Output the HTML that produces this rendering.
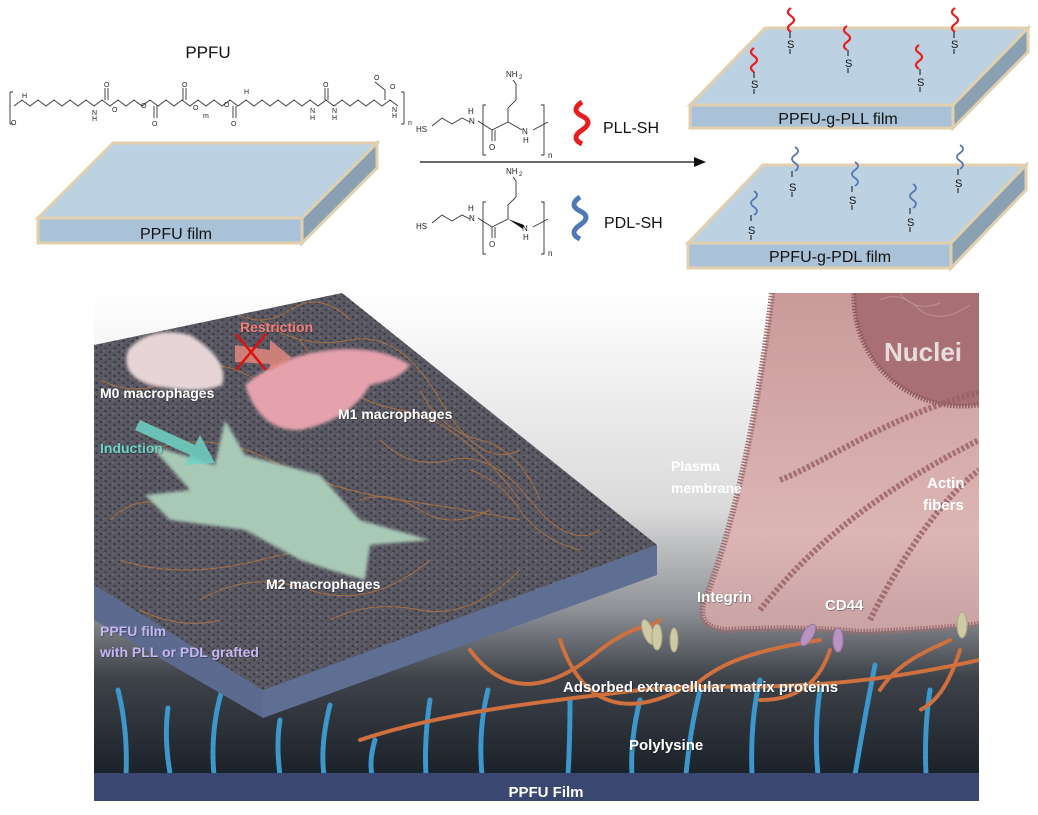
<!DOCTYPE html>
<html><head><meta charset="utf-8"><style>
html,body{margin:0;padding:0;background:#fff;}
svg{display:block;}
text{font-family:"Liberation Sans",Arial,sans-serif;}
.b{font-weight:bold;}
</style></head><body>
<svg width="1038" height="815" viewBox="0 0 1038 815" xmlns="http://www.w3.org/2000/svg">
<defs>
<clipPath id="pc"><rect x="94" y="293" width="885" height="480"/></clipPath>
<clipPath id="sc"><polygon points="94,345 342,293 657,545 263,690 94,585"/></clipPath>
<linearGradient id="bg" x1="0" y1="0" x2="0" y2="1">
<stop offset="0" stop-color="#ffffff"/><stop offset="0.45" stop-color="#dadada"/><stop offset="0.66" stop-color="#8e9196"/><stop offset="0.8" stop-color="#3e434a"/><stop offset="1" stop-color="#1c222a"/></linearGradient>
<linearGradient id="cell" x1="0" y1="0" x2="0" y2="1"><stop offset="0" stop-color="#c99a9a"/><stop offset="0.7" stop-color="#ddb5b5"/><stop offset="1" stop-color="#c8a2a4"/></linearGradient>
<pattern id="tex" width="9" height="7" patternUnits="userSpaceOnUse">
<rect width="9" height="7" fill="#4d5468"/>
<circle cx="2" cy="2" r="1" fill="#20242f"/><circle cx="6.5" cy="5" r="1" fill="#20242f"/><circle cx="5" cy="1" r="0.6" fill="#8d97b2"/>
</pattern>
<filter id="bl"><feGaussianBlur stdDeviation="1.5"/></filter>
<filter id="sh"><feDropShadow dx="0.5" dy="0.5" stdDeviation="0.6" flood-color="#000" flood-opacity="0.6"/></filter>
</defs>

<text x="208" y="58" font-size="17" text-anchor="middle" fill="#111">PPFU</text>
<path d="M14 106 l8 -6 l8 6 l8 -6 l8 6 l8 -6 l8 6 l8 -6 l8 6 l8 -6 l8 6 l8 -6 l8 6 l8 -6 l8 6 l8 -6 l8 6 l8 -6 l8 6 l8 -6 l8 6 l8 -6 l8 6 l8 -6 l8 6 l8 -6 l8 6 l8 -6 l8 6 l8 -6 l8 6 l8 -6 l8 6 l8 -6 l8 6 l8 -6 l8 6 l8 -6 l8 6 l8 -6 l8 6 l8 -6 l8 6 l8 -6 l8 6 l8 -6 l8 6 l8 -6 l8 6" stroke="#333" stroke-width="0.9" fill="none"/>
<g stroke="#333" stroke-width="0.9" fill="none">
<path d="M10 92 v32 M10 92 h3 M10 124 h3 M404 92 v32 M404 92 h-3 M404 124 h-3"/>
<line x1="105" y1="100" x2="105" y2="88"/><line x1="108" y1="100" x2="108" y2="88"/>
<line x1="154" y1="106" x2="154" y2="118"/><line x1="157" y1="106" x2="157" y2="118"/>
<line x1="183" y1="100" x2="183" y2="88"/><line x1="186" y1="100" x2="186" y2="88"/>
<line x1="233" y1="106" x2="233" y2="118"/><line x1="236" y1="106" x2="236" y2="118"/>
<line x1="325" y1="100" x2="325" y2="88"/><line x1="328" y1="100" x2="328" y2="88"/>
<line x1="385" y1="90" x2="385" y2="100"/><line x1="375" y1="82" x2="385" y2="90"/>
</g>
<g font-size="7" fill="#222">
<text x="22" y="98">H</text><text x="11" y="125">O</text>
<text x="92" y="115">N</text><text x="92" y="121">H</text><text x="104" y="87">O</text><text x="112" y="112">O</text>
<text x="141" y="108">O</text><text x="152" y="126">O</text><text x="182" y="87">O</text><text x="193" y="110">O</text>
<text x="203" y="118">m</text><text x="224" y="107">O</text><text x="231" y="126">O</text><text x="244" y="94">H</text>
<text x="310" y="113">N</text><text x="310" y="120">H</text><text x="323" y="87">O</text><text x="332" y="113">N</text><text x="332" y="120">H</text>
<text x="374" y="80">O</text><text x="390" y="89">O</text><text x="392" y="112">N</text><text x="392" y="118">H</text><text x="408" y="125">n</text>
</g>

<g stroke="#e2cfae" stroke-width="3">
<polygon points="113,143 377,143 302,218 38,218" fill="#bcd1e1"/>
<polygon points="38,218 302,218 302,243 38,243" fill="#a9c2d8"/>
<polygon points="302,218 377,143 377,168 302,243" fill="#8aa1b3"/>
</g>
<text x="176" y="239" font-size="16" text-anchor="middle" fill="#111">PPFU film</text>

<g stroke="#333" stroke-width="0.9" fill="none">
<polyline points="432,126 442,118 452,124 462,118 470,122"/>
<polyline points="478,121 492,130 508,122"/>
<line x1="492" y1="130" x2="492" y2="141"/><line x1="495" y1="130" x2="495" y2="141"/>
<polyline points="508,122 508,108 516,100 516,84 513,80"/>
<line x1="508" y1="122" x2="522" y2="130"/>
<polyline points="533,130 548,122"/>
<path d="M486 105 h-3 v50 h3 M541 105 h3 v50 h-3"/>
<polyline points="432,223 442,215 452,221 462,215 470,219"/>
<polyline points="478,218 492,227 508,219"/>
<line x1="492" y1="227" x2="492" y2="238"/><line x1="495" y1="227" x2="495" y2="238"/>
<polyline points="508,219 508,205 516,197 516,181 513,177"/>
<polyline points="533,227 548,219"/>
<path d="M486 202 h-3 v52 h3 M541 202 h3 v52 h-3"/>
</g>
<polygon points="508,219 524,225 523,229" fill="#111"/>
<g font-size="8" fill="#222">
<text x="416" y="132">HS</text><text x="468" y="114">H</text><text x="469" y="124">N</text><text x="489" y="150">O</text>
<text x="506" y="77">NH</text><text x="519" y="79" font-size="6">2</text><text x="522" y="134">N</text><text x="523" y="143">H</text><text x="548" y="158">n</text>
<text x="416" y="229">HS</text><text x="468" y="211">H</text><text x="469" y="221">N</text><text x="489" y="247">O</text>
<text x="506" y="174">NH</text><text x="519" y="176" font-size="6">2</text><text x="522" y="231">N</text><text x="523" y="240">H</text><text x="548" y="256">n</text>
</g>
<path d="M582 102 q-12 8 0 14 q12 6 0 14 q-12 8 0 14" stroke="#e81e1e" stroke-width="5" fill="none"/>
<text x="603" y="133" font-size="16" fill="#111">PLL-SH</text>
<path d="M580 197 q-12 8 0 14 q12 6 0 14 q-12 8 0 14" stroke="#4f79b5" stroke-width="5" fill="none"/>
<text x="604" y="228" font-size="16" fill="#111">PDL-SH</text>

<line x1="420" y1="162" x2="695" y2="162" stroke="#111" stroke-width="1.3"/>
<polygon points="706,162 694,157 694,167" fill="#111"/>

<g stroke="#e2cfae" stroke-width="3">
<polygon points="765,28 1028,28 953,105 690,105" fill="#bcd1e1"/>
<polygon points="690,105 953,105 953,128 690,128" fill="#a9c2d8"/>
<polygon points="953,105 1028,28 1028,52 953,128" fill="#8aa1b3"/>
<polygon points="763,165 1026,165 951,243 688,243" fill="#bcd1e1"/>
<polygon points="688,243 951,243 951,268 688,268" fill="#a9c2d8"/>
<polygon points="951,243 1026,165 1026,190 951,268" fill="#8aa1b3"/>
</g>
<text x="838" y="124" font-size="16" text-anchor="middle" fill="#111">PPFU-g-PLL film</text>
<text x="830" y="262" font-size="16" text-anchor="middle" fill="#111">PPFU-g-PDL film</text>
<g fill="none" stroke-width="2.2">
<g stroke="#e81e1e">
<path d="M754 48 q-6 4 0 8 q6 4 0 8 q-6 4 0 8"/>
<path d="M791 8 q-6 4 0 8 q6 4 0 8 q-6 4 0 8"/>
<path d="M847 26 q-6 4 0 8 q6 4 0 8 q-6 4 0 8"/>
<path d="M919 45 q-6 4 0 8 q6 4 0 8 q-6 4 0 8"/>
<path d="M955 8 q-6 4 0 8 q6 4 0 8 q-6 4 0 8"/>
</g>
<g stroke="#4f79b5" stroke-width="1.8">
<path d="M754 191 q6 4 0 8 q-6 4 0 8 q6 4 0 8"/>
<path d="M795 147 q6 4 0 8 q-6 4 0 8 q6 4 0 8"/>
<path d="M855 162 q6 4 0 8 q-6 4 0 8 q6 4 0 8"/>
<path d="M913 184 q6 4 0 8 q-6 4 0 8 q6 4 0 8"/>
<path d="M960 145 q6 4 0 8 q-6 4 0 8 q6 4 0 8"/>
</g>
</g>
<g font-size="11" fill="#111">
<text x="751" y="88">S</text><text x="787" y="48">S</text><text x="845" y="67">S</text><text x="917" y="86">S</text><text x="951" y="48">S</text>
<text x="748" y="234">S</text><text x="789" y="191">S</text><text x="849" y="204">S</text><text x="907" y="226">S</text><text x="955" y="187">S</text>
</g>
<g stroke="#111" stroke-width="1">
<path d="M754 72 v6 M754 89 v5 M790 32 v6 M790 49 v5 M848 50 v6 M848 68 v5 M920 69 v6 M920 87 v5 M954 32 v6 M954 49 v5"/>
<path d="M751 215 v6 M751 235 v5 M792 171 v6 M792 192 v5 M852 186 v6 M852 205 v5 M910 208 v6 M910 227 v5 M958 169 v6 M958 188 v5"/>
</g>

<rect x="94" y="293" width="885" height="480" fill="url(#bg)"/>
<g clip-path="url(#pc)">
<path d="M772,293 C762,380 742,500 708,592 Q690,628 728,630 Q800,626 860,632 Q930,630 979,624 L979,293 Z" fill="url(#cell)"/>
<path d="M772,293 C762,380 742,500 708,592 Q690,628 728,630 Q800,626 860,632 Q930,630 979,624" fill="none" stroke="#a06c70" stroke-width="6" stroke-dasharray="1.5 1.5"/>
<circle cx="962" cy="298" r="108" fill="#a87074" stroke="#8f5a5e" stroke-width="5" stroke-dasharray="1.5 1.5"/>
<g stroke="#c9a0a0" stroke-width="1" fill="none" opacity="0.7">
<path d="M880 300 q20 -10 40 10 q20 15 50 -5"/><path d="M900 293 q15 20 40 10"/>
</g>
<g stroke="#9a6064" stroke-width="6" stroke-dasharray="3 2" fill="none" opacity="0.8">
<path d="M760 610 C800 560 860 500 979 440"/>
<path d="M780 480 C830 460 880 420 979 392"/>
<path d="M870 620 C900 560 940 500 979 470"/>
</g>
</g>
<text x="884" y="361" font-size="26" class="b" fill="#e8dcdc">Nuclei</text>
<text x="671" y="471" font-size="14" class="b" fill="#fff">Plasma</text>
<text x="671" y="493" font-size="14" class="b" fill="#fff">membrane</text>
<text x="927" y="488" font-size="15" class="b" fill="#fff">Actin</text>
<text x="923" y="510" font-size="15" class="b" fill="#fff">fibers</text>

<g fill="none" stroke-linecap="round" clip-path="url(#pc)">
<g stroke="#3b97cc" stroke-width="5" stroke-dasharray="4 2">
<path d="M118 690 q10 40 8 85"/><path d="M168 708 q-4 30 2 65"/><path d="M222 690 q-12 40 -8 85"/>
<path d="M280 720 q-4 25 0 55"/><path d="M330 705 q-10 40 -6 70"/><path d="M375 740 q-6 20 -3 35"/>
<path d="M430 700 q-6 40 -4 75"/><path d="M488 690 q-10 40 -6 85"/><path d="M570 700 q0 40 -2 75"/>
<path d="M640 700 q-10 40 -8 75"/><path d="M700 690 q-10 40 -14 85"/><path d="M760 680 q-10 40 -8 95"/>
<path d="M820 690 q-6 40 -2 85"/><path d="M875 665 q-10 50 -20 110"/><path d="M930 690 q-6 40 -4 85"/>
</g>
<g stroke="#d0703e" stroke-width="4" stroke-dasharray="3 2">
<path d="M360 740 C450 710 560 700 640 690 C720 680 800 700 979 660"/>
<path d="M470 650 C500 690 540 700 600 650 C640 620 650 630 660 620"/>
<path d="M560 640 C580 700 620 720 680 690"/>
<path d="M690 690 C720 660 760 650 820 640 M830 650 C820 680 800 700 760 700"/>
<path d="M880 690 C900 660 930 650 950 640 M960 650 C950 680 940 700 920 710"/>
</g>
</g>
<g fill="#cfcaa6" stroke="#a9a482" stroke-width="1">
<ellipse cx="648" cy="632" rx="5" ry="13" transform="rotate(-20 648 632)"/><ellipse cx="657" cy="637" rx="5" ry="13"/>
<ellipse cx="674" cy="640" rx="4" ry="12"/><ellipse cx="962" cy="625" rx="5" ry="13"/>
</g>
<g fill="#b993c2" stroke="#9a78a4" stroke-width="1">
<ellipse cx="808" cy="635" rx="5" ry="12" transform="rotate(30 808 635)"/><ellipse cx="838" cy="640" rx="5" ry="12"/>
</g>

<polygon points="94,345 342,293 657,545 263,690 94,585" fill="url(#tex)"/>
<g clip-path="url(#sc)">
<polygon points="94,345 342,293 657,545 263,690 94,585" fill="#8a6a4a" opacity="0.18"/>
<g stroke="#c27a3a" stroke-width="1" fill="none" opacity="0.75">
<path d="M260 320 q40 30 90 20 t90 60 t80 50"/><path d="M150 450 q60 -20 120 10 t130 40 t120 20"/>
<path d="M120 560 q60 20 140 0 t160 -20"/><path d="M300 340 q40 60 100 70 t120 90"/>
<path d="M100 380 q40 20 80 -5 t90 15"/><path d="M380 440 q30 30 70 20 t80 40 t70 30"/>
<path d="M200 600 q50 -30 110 -10 t120 -30"/><path d="M420 390 q20 40 60 50 t60 60"/>
<path d="M110 520 q30 -30 70 -10 t60 -20"/><path d="M330 620 q40 -20 90 -10 t100 -40"/>
<path d="M470 470 q30 10 50 40 t60 40"/><path d="M360 500 q30 -10 60 10 t70 0"/>
<path d="M140 610 q40 20 80 10"/><path d="M230 310 q30 20 60 0 t60 10"/>
</g>
</g>
<polygon points="94,585 263,690 263,718 94,620" fill="#5b6a8e"/>
<polygon points="263,690 657,545 657,575 263,718" fill="#5f6f94"/>
<path d="M128 350 Q150 325 190 335 Q230 360 222 385 Q200 395 150 385 Q120 375 128 350Z" fill="#e6d4d6" filter="url(#bl)"/>
<path d="M245 385 Q280 355 330 350 Q380 345 410 365 Q400 380 370 385 Q350 420 300 430 Q260 432 245 385Z" fill="#e5a2ad" filter="url(#bl)"/>
<path d="M150 445 L215 465 L225 420 L245 455 L320 475 L360 520 L430 540 L370 545 L365 580 L330 570 L300 560 L245 530 L170 520 L145 495 L190 490 Z" fill="#a9c9b7" filter="url(#bl)"/>
<path d="M235 345 L270 350 L270 340 L292 358 L270 372 L270 364 L235 362Z" fill="#e88c80" opacity="0.8"/>
<path d="M236 334 L266 370 M266 334 L236 370" stroke="#e01010" stroke-width="2.5"/>
<path d="M140 420 L195 445 L200 435 L215 463 L185 465 L190 455 L135 430Z" fill="#6fd3c6" opacity="0.85"/>

<g filter="url(#sh)" class="b">
<text x="240" y="332" font-size="14" fill="#f0807a">Restriction</text>
<text x="100" y="398" font-size="14" fill="#fff">M0 macrophages</text>
<text x="338" y="419" font-size="14" fill="#fff">M1 macrophages</text>
<text x="100" y="453" font-size="14" fill="#6cd0c6">Induction</text>
<text x="266" y="589" font-size="14" fill="#fff">M2 macrophages</text>
<text x="100" y="636" font-size="14" fill="#c4b6f0">PPFU film</text>
<text x="100" y="657" font-size="14" fill="#c4b6f0">with PLL or PDL grafted</text>
<text x="697" y="602" font-size="15" fill="#fff">Integrin</text>
<text x="825" y="610" font-size="15" fill="#fff">CD44</text>
<text x="563" y="692" font-size="15" fill="#fff">Adsorbed extracellular matrix proteins</text>
<text x="629" y="750" font-size="15" fill="#fff">Polylysine</text>
</g>
<rect x="94" y="773" width="885" height="28" fill="#3a4770"/>
<text x="546" y="797" font-size="15" class="b" text-anchor="middle" fill="#fff">PPFU Film</text>
</svg>
</body></html>
